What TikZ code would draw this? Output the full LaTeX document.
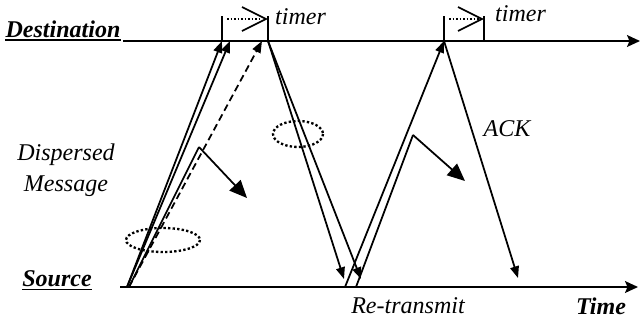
\documentclass[tikz,border=0pt]{standalone}
\usepackage{fontspec}
\setmainfont{Liberation Serif}
\usetikzlibrary{arrows.meta}

\begin{document}
\begin{tikzpicture}[x=0.03cm,y=-0.03cm,
   txt/.style={font=\fontsize{20.5}{26}\selectfont\itshape,inner sep=0pt,anchor=base},
   hd/.style={font=\fontsize{20.5}{26}\selectfont\bfseries\itshape,inner sep=0pt,anchor=base},
   axis/.style={line width=1.8pt,-{Stealth[length=11pt,width=10pt,inset=2pt]}},
   msg/.style={line width=1.5pt,-{Triangle[length=10pt,width=7.5pt]}},
   flag/.style={line width=1.5pt,-{Triangle[length=15pt,width=13pt]}},
   tick/.style={line width=1.2pt},
   zone/.style={line width=2pt,dash pattern=on 2pt off 1.9pt}]
  \useasboundingbox (0,0) rectangle (640,323);
  % labels
  \node[hd] (dst) at (63,37) {Destination};
  \node[hd] (src) at (57,286) {Source};
  \node[hd] (tm) at (601,314) {Time};
  \node[txt,align=center] (dm) at (66,191) {Dispersed\\Message};
  \node[txt] (rt) at (408,313) {Re-transmit};
  \node[txt,anchor=base west] (t1) at (275,24) {timer};
  \node[txt,anchor=base west] (t2) at (495,21) {timer};
  \node[txt] (ack) at (507,136) {ACK};
  \draw[line width=1.5pt] ([yshift=-2.8pt]dst.base west) -- ([yshift=-2.8pt]dst.base east);
  \draw[line width=1.5pt] ([yshift=-3pt]src.base west) -- ([yshift=-3pt]src.base east);
  % time lines
  \coordinate (d0) at (123,41);  \coordinate (dE) at (640,41);
  \coordinate (s0) at (120,287); \coordinate (sE) at (638,287);
  \draw[axis] (d0) -- (dE);
  \draw[axis] (s0) -- (sE);
  % events
  \coordinate (a) at (127,287);
  \coordinate (a2) at (129,287);
  \coordinate (da) at (222,41);
  \coordinate (db) at (230,41);
  \coordinate (dc) at (268,41);
  \coordinate (dd) at (262,41);
  \coordinate (k1) at (199,147);
  \coordinate (f1) at (247,198);
  \coordinate (r1) at (344,279);
  \coordinate (r2) at (361,279);
  \coordinate (e) at (345,287);
  \coordinate (e2) at (356,287);
  \coordinate (de) at (444,41);
  \coordinate (k2) at (413,135);
  \coordinate (f2) at (465,181);
  \coordinate (ak) at (518,278);
  % timers
  \draw[tick] (da) -- ++(0,-25);
  \draw[tick] (dc) -- ++(0,-25);
  \draw[zone,line width=1.5pt,dash pattern=on 1.5pt off 1.5pt] (227,19) -- (262,19);
  \draw[line width=1.5pt] (242,7) -- (266,19) -- (242,31);
  \draw[tick] (de) -- ++(0,-25);
  \draw[tick] (484,41) -- ++(0,-25);
  \draw[zone,line width=1.5pt,dash pattern=on 1.5pt off 1.5pt] (449,19) -- (480,19);
  \draw[line width=1.5pt] (458,7) -- (482,19) -- (458,31);
  % messages
  \draw[msg] (a) -- (da);
  \draw[msg] (a) -- (db);
  \draw[msg,dash pattern=on 6pt off 3.5pt] (a2) -- (dd);
  \draw[line width=1.5pt] (a2) -- (k1);
  \draw[flag] (k1) -- (f1);
  \draw[msg] (dc) -- (r1);
  \draw[msg] (dc) -- (r2);
  \draw[msg] (e) -- (de);
  \draw[line width=1.5pt] (e2) -- (k2);
  \draw[flag] (k2) -- (f2);
  \draw[msg] (de) -- (ak);
  % loss zones
  \draw[zone] (163,240) ellipse [x radius=37,y radius=12];
  \draw[zone] (298,134) ellipse [x radius=25,y radius=13];
\end{tikzpicture}
\end{document}
